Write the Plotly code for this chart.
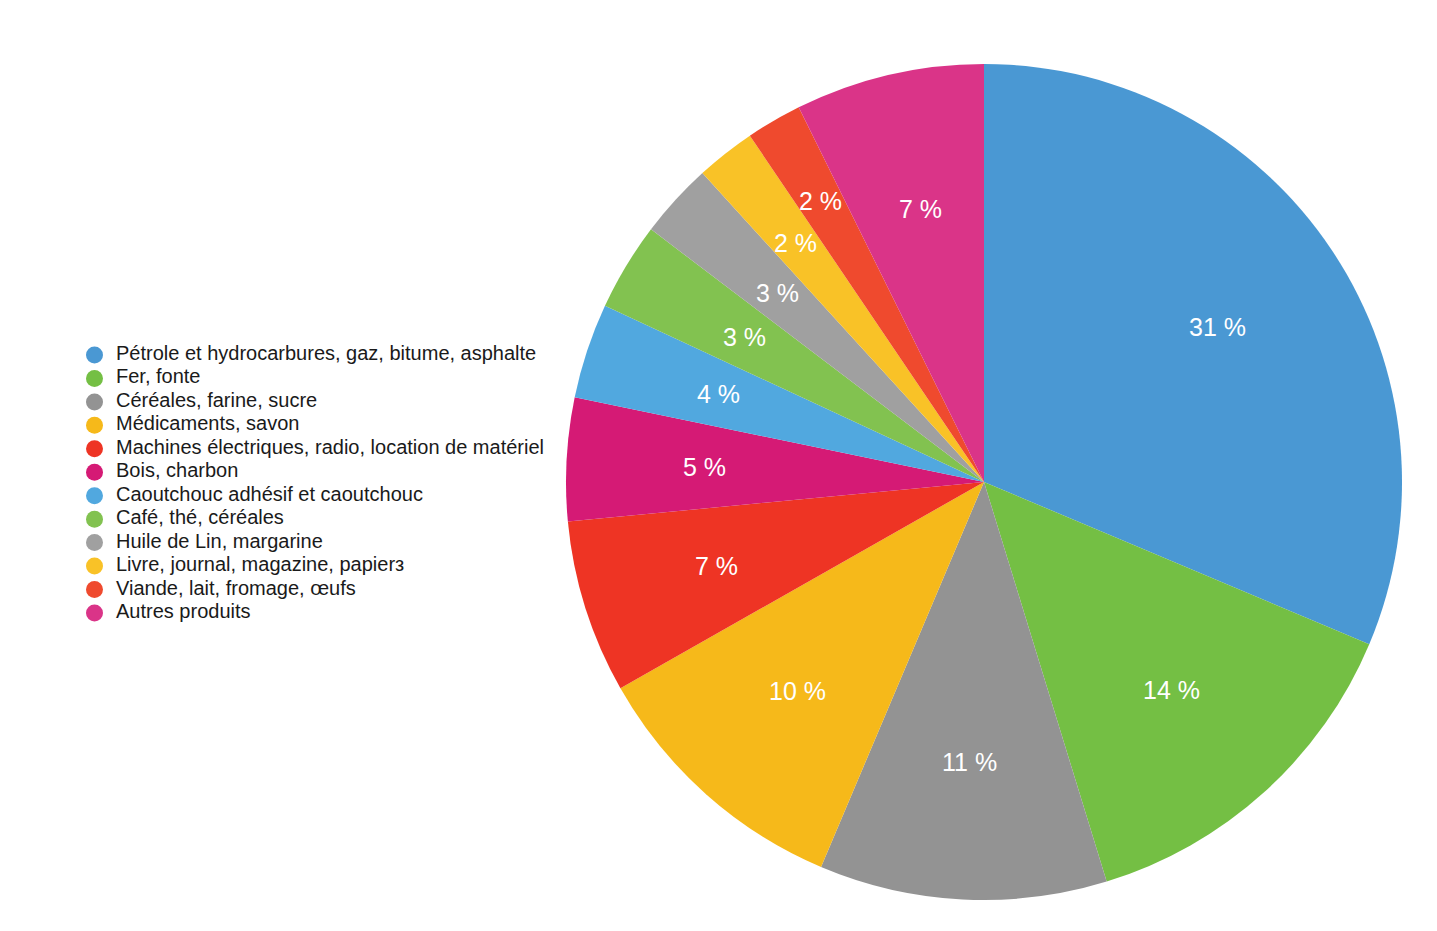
import math
import plotly.graph_objects as go

categories = [
    "Pétrole et hydrocarbures, gaz, bitume, asphalte",
    "Fer, fonte",
    "Céréales, farine, sucre",
    "Médicaments, savon",
    "Machines électriques, radio, location de matériel",
    "Bois, charbon",
    "Caoutchouc adhésif et caoutchouc",
    "Café, thé, céréales",
    "Huile de Lin, margarine",
    "Livre, journal, magazine, papierз",
    "Viande, lait, fromage, œufs",
    "Autres produits",
]
values = [31.3, 13.9, 11.1, 10.4, 6.7, 4.75, 3.67, 3.4, 2.9, 2.3, 2.15, 7.3]
colors = ["#4A98D3", "#74BF44", "#939393", "#F6B91A", "#EE3424", "#D51A75",
          "#51A8DF", "#82C250", "#A0A0A0", "#F9C227", "#EF4A2E", "#DA3488"]

W, H = 1437, 931
CX, CY, R = 984, 482, 418
FONT = "Liberation Sans, Arial, Helvetica, sans-serif"

# legend layout (pixels)
LEG_X, LEG_TEXT_X, LEG_Y0, LEG_STEP = 94.5, 116, 355, 23.45

fig = go.Figure()
fig.add_trace(go.Pie(
    labels=categories, values=values, sort=False, direction="clockwise",
    rotation=0, marker=dict(colors=colors, line=dict(width=0)),
    textinfo="none", hoverinfo="label+percent", showlegend=False,
    domain=dict(x=[(CX - R) / W, (CX + R) / W], y=[(H - CY - R) / H, (H - CY + R) / H]),
))

idx = list(range(len(categories)))
fig.add_trace(go.Scatter(
    x=[LEG_X] * len(idx), y=idx, mode="markers", showlegend=False,
    marker=dict(color=colors, size=17, symbol="circle"), hoverinfo="skip",
))
fig.add_trace(go.Scatter(
    x=[LEG_TEXT_X] * len(idx), y=idx, mode="text", text=categories,
    textposition="middle right", showlegend=False, hoverinfo="skip",
    textfont=dict(family=FONT, size=20, color="#1a1a1a"),
))

total = sum(values)
cum = 0.0
annotations = []
for v in values:
    frac = v / total
    mid = (cum + frac / 2) * 2 * math.pi
    half = frac * math.pi
    rr = max(0.67 * R, 44 / (2 * math.sin(half)))
    px = CX + rr * math.sin(mid)
    py = CY - rr * math.cos(mid)
    annotations.append(dict(
        x=px / W, y=1 - py / H, xref="paper", yref="paper",
        text=f"{round(frac * 100)} %", showarrow=False,
        font=dict(family=FONT, size=25, color="white"),
        xanchor="center", yanchor="middle",
    ))
    cum += frac

fig.update_layout(
    width=W, height=H, margin=dict(l=0, r=0, t=0, b=0),
    paper_bgcolor="white", plot_bgcolor="rgba(0,0,0,0)",
    xaxis=dict(visible=False, domain=[0, 1], range=[0, W], fixedrange=True),
    yaxis=dict(visible=False, domain=[0, 1], fixedrange=True,
               range=[(H - LEG_Y0) / LEG_STEP, -LEG_Y0 / LEG_STEP]),
    annotations=annotations,
    showlegend=False,
    hovermode=False,
)

fig.write_html("out.html")
